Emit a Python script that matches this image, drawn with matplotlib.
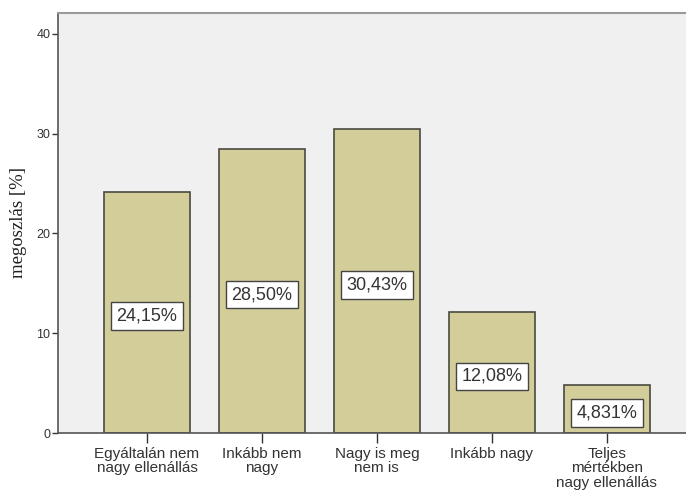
import matplotlib
matplotlib.use("Agg")
import matplotlib.pyplot as plt

# categories and percentages
categories = ["Egyáltalán nem\nnagy ellenállás", "Inkább nem\nnagy", "Nagy is meg\nnem is",
              "Inkább nagy", "Teljes\nmértékben\nnagy ellenállás"]
values = [24.15, 28.50, 30.43, 12.08, 4.831]
value_labels = ["24,15%", "28,50%", "30,43%", "12,08%", "4,831%"]
yticks = [0, 10, 20, 30, 40]

fig = plt.figure(figsize=(6.86, 4.97), dpi=100)
ax = fig.add_axes([58 / 686, 64 / 497, 1 - 58 / 686, 420 / 497])
ax.set_facecolor("#f0f0f0")

x = list(range(len(categories)))
ax.bar(x, values, width=0.75, color="#d3ce99", edgecolor="#4a4a40", linewidth=1.2, zorder=2)

for xi, v, lab in zip(x, values, value_labels):
    ax.text(xi, v / 2 - 0.37, lab, ha="center", va="center", fontsize=13,
            family="Liberation Sans", color="#333333", zorder=3,
            bbox=dict(boxstyle="square,pad=0.3", facecolor="white", edgecolor="#444444", linewidth=1))

ax.set_xlim(-0.774, 4.69)
ax.set_ylim(0, 42.1)
ax.set_yticks(yticks)
ax.set_yticklabels([str(t) for t in yticks], fontsize=9, family="Liberation Sans", color="#333333")
ax.set_xticks(x)
ax.set_xticklabels(categories, fontsize=11, family="Liberation Sans", color="#333333", linespacing=1.05)
ax.tick_params(axis="y", length=4.5, width=1, color="#333333", pad=1)
ax.tick_params(axis="x", length=7, width=1, color="#333333", pad=3)

ax.set_ylabel("megoszlás [%]", fontsize=13.5, family="Liberation Serif", color="#222222", labelpad=7)

ax.spines["right"].set_visible(False)
ax.spines["top"].set_color("#9a9a9a")
ax.spines["top"].set_linewidth(1.5)
ax.spines["left"].set_color("#555555")
ax.spines["bottom"].set_color("#555555")
ax.spines["left"].set_linewidth(1.2)
ax.spines["bottom"].set_linewidth(1.2)

fig.savefig("out.png", dpi=100, facecolor="white")
